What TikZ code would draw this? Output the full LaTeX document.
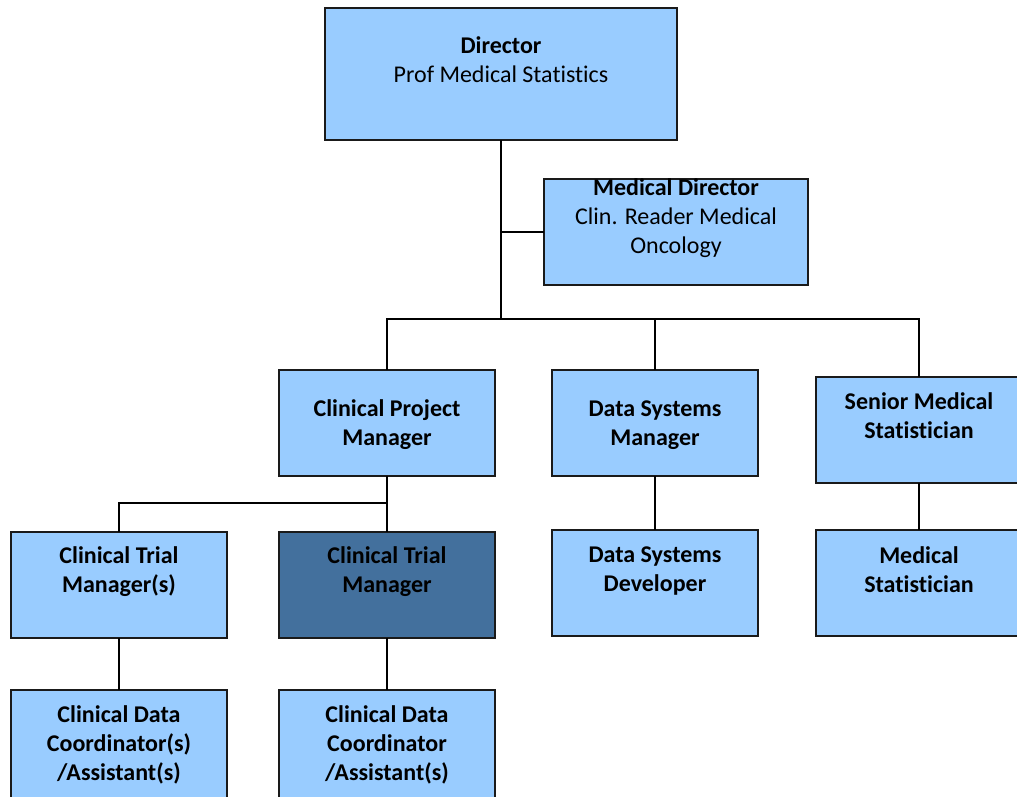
\documentclass[tikz,border=0pt]{standalone}
\usepackage{fontspec}
\setmainfont{Carlito}[Ligatures={NoCommon}]
\definecolor{lightbox}{HTML}{99CCFF}
\definecolor{darkbox}{HTML}{43709D}
\definecolor{edge}{HTML}{1A1A1A}
\begin{document}
\begin{tikzpicture}[x=1pt,y=-1pt,
  box/.style={draw=edge, line width=1.6pt, fill=lightbox, inner sep=0pt, outer sep=0pt, anchor=north west, minimum width=216pt, minimum height=106pt},
  darkboxst/.style={box, fill=darkbox},
  txt/.style={align=center, font=\fontsize{24}{29}\selectfont, inner sep=0pt},
  conn/.style={draw=black, line width=2.8pt}]
\clip (0,0) rectangle (1017,796);
\fill[white] (0,0) rectangle (1017,796);
% boxes
\node[box, minimum width=352pt, minimum height=132pt] (dir) at (325,8) {};
\node[box, minimum width=264pt, minimum height=106pt] (md) at (544,179) {};
\node[box] (cpm) at (279,370) {};
\node[box, minimum width=206pt] (dsm) at (552,370) {};
\node[box, minimum width=206pt] (sms) at (816,377) {};
\node[box] (ctms) at (11,532) {};
\node[darkboxst] (ctm) at (279,532) {};
\node[box, minimum width=206pt] (dsd) at (552,530) {};
\node[box, minimum width=206pt] (ms) at (816,530) {};
\node[box, minimum height=112pt] (cdcs) at (11,690) {};
\node[box, minimum height=112pt] (cdc) at (279,690) {};
% texts
\node[txt] (dirT) at (501,60) {\textbf{Director}\\Prof Medical Statistics};
\node[txt] (mdT) at (676,218) {\textbf{Medical Director}\\Clin. Reader Medical\\Oncology};
\node[txt] (cpmT) at (387,425) {\textbf{Clinical Project}\\\textbf{Manager}};
\node[txt] (dsmT) at (655,425) {\textbf{Data Systems}\\\textbf{Manager}};
\node[txt] (smsT) at (919,416) {\textbf{Senior Medical}\\\textbf{Statistician}};
\node[txt] (ctmsT) at (119,572) {\textbf{Clinical Trial}\\\textbf{Manager(s)}};
\node[txt] (ctmT) at (387,572) {\textbf{Clinical Trial}\\\textbf{Manager}};
\node[txt] (dsdT) at (655,571) {\textbf{Data Systems}\\\textbf{Developer}};
\node[txt] (msT) at (919,570) {\textbf{Medical}\\\textbf{Statistician}};
\node[txt] (cdcsT) at (119,745) {\textbf{Clinical Data}\\\textbf{Coordinator(s)}\\\textbf{/Assistant(s)}};
\node[txt] (cdcT) at (387,745) {\textbf{Clinical Data}\\\textbf{Coordinator}\\\textbf{/Assistant(s)}};
% connectors
\coordinate (bus) at (501,319);
\coordinate (split) at (387,503);
\draw[conn] (dir.south) -- (bus);
\draw[conn] (dir.south |- md.west) -- (md.west);
\draw[conn] (cpm.north) -- (cpm.north |- bus) -- (sms.north |- bus) -- (sms.north);
\draw[conn] (dsm.north) -- (dsm.north |- bus);
\draw[conn] (cpm.south) -- (ctm.north);
\draw[conn] (split) -| (ctms.north);
\draw[conn] (dsm.south) -- (dsd.north);
\draw[conn] (sms.south) -- (ms.north);
\draw[conn] (ctms.south) -- (cdcs.north);
\draw[conn] (ctm.south) -- (cdc.north);
\end{tikzpicture}
\end{document}
